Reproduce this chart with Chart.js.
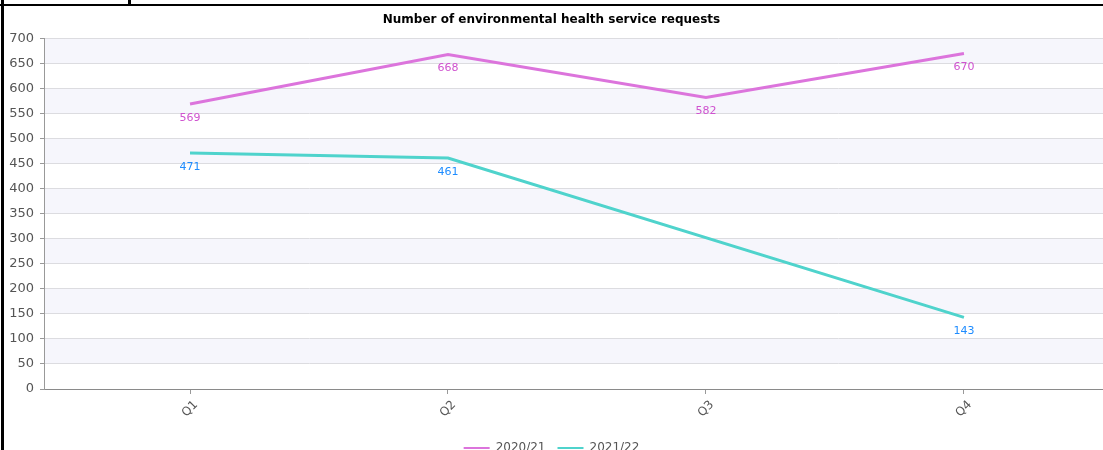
<!DOCTYPE html>
<html>
<head>
<meta charset="utf-8">
<title>Environmental health service requests</title>
<script src="https://cdn.jsdelivr.net/npm/chart.js@4.4.1/dist/chart.umd.min.js"></script>
<style>
  html, body { margin: 0; padding: 0; background: #fff; overflow: hidden; }
  #wrap { position: relative; width: 1103px; height: 450px; overflow: hidden; }
  #chartBox { position: absolute; left: 0; top: 0; width: 1103px; height: 464px; }
  /* surrounding table frame */
  #frameTop { position: absolute; left: 0; top: 4px; width: 1103px; height: 2px; background: #000; }
  #frameLeft { position: absolute; left: 1px; top: 0; width: 3px; height: 450px; background: #000; }
  #frameTick { position: absolute; left: 128px; top: 0; width: 3px; height: 6px; background: #000; }
</style>
</head>
<body>
<div id="wrap">
  <div id="chartBox"><canvas id="reqChart"></canvas></div>
  <div id="frameTop"></div>
  <div id="frameLeft"></div>
  <div id="frameTick"></div>
</div>
<script>
const quarters = ['Q1', 'Q2', 'Q3', 'Q4'];
const seriesNames = ['2020/21', '2021/22'];
const requests2020 = [569, 668, 582, 670];
const requests2021 = [471, 461, null, 143]; // no Q3 figure yet
const yTicks = { min: 0, max: 700, step: 50 };

const FONT = '"DejaVu Sans", Verdana, sans-serif';
const lineColors = ['#dc74dc', '#4fd3cc'];
const valueColors = ['#cf52cf', '#1e8cff'];

// quarters sit at x = 1..4 on a linear axis
const toPoints = (vals) => vals.map((v, i) => ({ x: i + 1, y: v }));

// alternating lavender / white bands between the y gridlines
const bandPlugin = {
  id: 'bands',
  beforeDraw(chart) {
    const { ctx, chartArea } = chart;
    const y = chart.scales.y;
    ctx.save();
    ctx.fillStyle = '#fff';
    ctx.fillRect(0, 0, chart.width, chart.height);
    ctx.fillStyle = '#f6f6fc';
    let k = 0;
    for (let v = yTicks.max; v > yTicks.min; v -= yTicks.step, k++) {
      if (k % 2) continue;
      const top = y.getPixelForValue(v);
      const bot = y.getPixelForValue(v - yTicks.step);
      ctx.fillRect(chartArea.left, top, chartArea.right - chartArea.left, bot - top);
    }
    ctx.restore();
  }
};

// value labels under each point, and slanted quarter labels
const labelPlugin = {
  id: 'labels',
  afterDatasetsDraw(chart) {
    const { ctx } = chart;
    ctx.save();
    ctx.font = '11px ' + FONT;
    ctx.textAlign = 'center';
    ctx.textBaseline = 'middle';
    chart.data.datasets.forEach((ds, di) => {
      const meta = chart.getDatasetMeta(di);
      ctx.fillStyle = valueColors[di];
      meta.data.forEach((pt, i) => {
        const v = ds.data[i].y;
        if (v == null) return;
        ctx.fillText(String(v), pt.x, pt.y + 14);
      });
    });
    ctx.restore();
  },
  afterDraw(chart) {
    const { ctx } = chart;
    const x = chart.scales.x;
    const base = chart.chartArea.bottom;
    ctx.save();
    ctx.font = '12px ' + FONT;
    ctx.fillStyle = '#555';
    ctx.textAlign = 'center';
    ctx.textBaseline = 'middle';
    quarters.forEach((q, i) => {
      ctx.save();
      ctx.translate(x.getPixelForValue(i + 1), base + 20);
      ctx.rotate(-Math.PI / 4);
      ctx.fillText(q, 0, 0);
      ctx.restore();
    });
    ctx.restore();
  }
};

new Chart(document.getElementById('reqChart'), {
  type: 'line',
  data: {
    datasets: [
      { label: seriesNames[0], data: toPoints(requests2020), borderColor: lineColors[0], backgroundColor: lineColors[0], borderWidth: 3, pointRadius: 0, tension: 0 },
      { label: seriesNames[1], data: toPoints(requests2021), borderColor: lineColors[1], backgroundColor: lineColors[1], borderWidth: 3, pointRadius: 0, tension: 0, spanGaps: true }
    ]
  },
  options: {
    responsive: true,
    maintainAspectRatio: false,
    animation: false,
    layout: { padding: { left: 0, right: 0, top: 0, bottom: 0 } },
    scales: {
      x: {
        type: 'linear',
        min: 0.434,
        max: 4.539,
        afterBuildTicks: (s) => { s.ticks = quarters.map((q, i) => ({ value: i + 1 })); },
        afterFit: (s) => { s.height = 41; },
        ticks: { display: false },
        grid: { drawOnChartArea: false, tickLength: 5, color: '#999' },
        border: { color: '#8a8a8a', width: 1 }
      },
      y: {
        min: yTicks.min,
        max: yTicks.max,
        afterFit: (s) => { s.width = 44; },
        ticks: { stepSize: yTicks.step, color: '#555', font: { family: FONT, size: 13 }, padding: 6 },
        grid: { color: '#dcdce0', tickLength: 4, tickColor: '#999' },
        border: { color: '#999' }
      }
    },
    plugins: {
      title: {
        display: true,
        text: 'Number of environmental health service requests',
        color: '#000',
        font: { family: FONT, size: 12, weight: 'bold' },
        padding: { top: 13, bottom: 11 }
      },
      legend: {
        position: 'bottom',
        labels: {
          color: '#555',
          font: { family: FONT, size: 12 },
          usePointStyle: true,
          pointStyle: 'line',
          pointStyleWidth: 26,
          boxHeight: 10,
          padding: 12,
          generateLabels: (chart) => Chart.defaults.plugins.legend.labels.generateLabels(chart)
            .map((l) => Object.assign(l, { lineWidth: 2, pointStyle: 'line' }))
        }
      },
      tooltip: { enabled: false }
    }
  },
  plugins: [bandPlugin, labelPlugin]
});
</script>
</body>
</html>
